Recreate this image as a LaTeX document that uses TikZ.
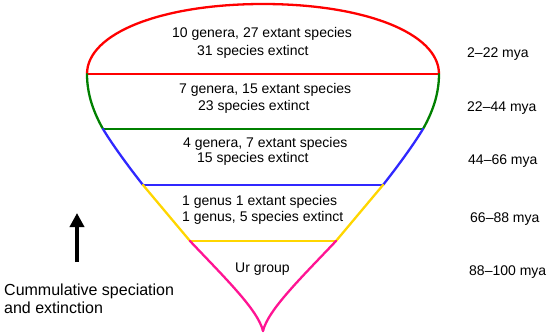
\documentclass[tikz,border=0pt]{standalone}
\usepackage{fontspec}
\setmainfont{Liberation Sans}
\usetikzlibrary{arrows.meta}

\definecolor{rimred}{RGB}{255,0,0}
\definecolor{rimgreen}{RGB}{0,128,0}
\definecolor{rimblue}{RGB}{48,40,255}
\definecolor{rimyellow}{RGB}{255,214,0}
\definecolor{rimpink}{RGB}{255,20,147}

\begin{document}
\begin{tikzpicture}[
    x = 1pt, y = -1pt,
    rim/.style={line width=2.3pt, line cap=round},
    bar/.style={line width=1.8pt},
    txt/.style={anchor=base west, inner sep=0pt, font=\fontsize{14}{16}\selectfont},
    note/.style={anchor=base west, inner sep=0pt, font=\fontsize{16}{19}\selectfont}
]
\useasboundingbox (0,0) rectangle (550,335);

% --- Outline points ---
\coordinate (top) at (263,4);
\coordinate (l1) at (87,74);   \coordinate (r1) at (439,74);
\coordinate (l2) at (103,129); \coordinate (r2) at (423,129);
\coordinate (l3) at (143,185); \coordinate (r3) at (383,185);
\coordinate (l4) at (190,241); \coordinate (r4) at (336,241);
\coordinate (tip) at (263,331);

% --- 2-22 mya ---
\draw[rim, rimred] (l1) .. controls (87,33) and (162,4) .. (top)
    .. controls (364,4) and (439,33) .. (r1);
\draw[bar, rimred] (l1) -- (r1);

% --- 22-44 mya ---
\draw[rim, rimgreen] (l1) .. controls (87,95) and (94,113) .. (l2);
\draw[rim, rimgreen] (r1) .. controls (439,95) and (432,113) .. (r2);
\draw[bar, rimgreen] (l2) -- (r2);

% --- 44-66 mya ---
\draw[rim, rimblue] (l2) .. controls (112,144) and (128,166) .. (l3);
\draw[rim, rimblue] (r2) .. controls (414,144) and (398,166) .. (r3);
\draw[bar, rimblue] (l3) -- (r3);

% --- 66-88 mya ---
\draw[rim, rimyellow] (l3) -- (l4);
\draw[rim, rimyellow] (r3) -- (r4);
\draw[bar, rimyellow] (l4) -- (r4);

% --- 88-100 mya ---
\draw[rim, rimpink] (l4) .. controls (225,278) and (258,310) .. (tip);
\draw[rim, rimpink] (r4) .. controls (301,278) and (268,310) .. (tip);

% --- Layer texts ---
\node[txt] (gen10) at (172,37) {10 genera, 27 extant species};
\node[txt] (ext31) at (197,55) {31 species extinct};
\node[txt] (gen7) at (179,93) {7 genera, 15 extant species};
\node[txt] (ext23) at (198,110) {23 species extinct};
\node[txt] (gen4) at (183,147) {4 genera, 7 extant species};
\node[txt] (ext15) at (197,162) {15 species extinct};
\node[txt] (gen1) at (182,205) {1 genus 1 extant species};
\node[txt] (ext5) at (182,221) {1 genus, 5 species extinct};
\node[txt] (ur) at (235,272) {Ur group};

% --- Ages ---
\node[txt] (age1) at (467,57) {2--22 mya};
\node[txt] (age2) at (467,111) {22--44 mya};
\node[txt] (age3) at (468,164) {44--66 mya};
\node[txt] (age4) at (470,222) {66--88 mya};
\node[txt] (age5) at (469,275) {88--100 mya};

% --- Arrow ---
\coordinate (foot) at (77,262);
\coordinate (head) at (77,213);
\draw[-{Triangle[width=14pt, length=14pt]}, line width=4.5pt] (foot) -- (head);
\node[note] (cum1) at (4,295) {Cummulative speciation};
\node[note] (cum2) at (4,313) {and extinction};

\end{tikzpicture}
\end{document}
